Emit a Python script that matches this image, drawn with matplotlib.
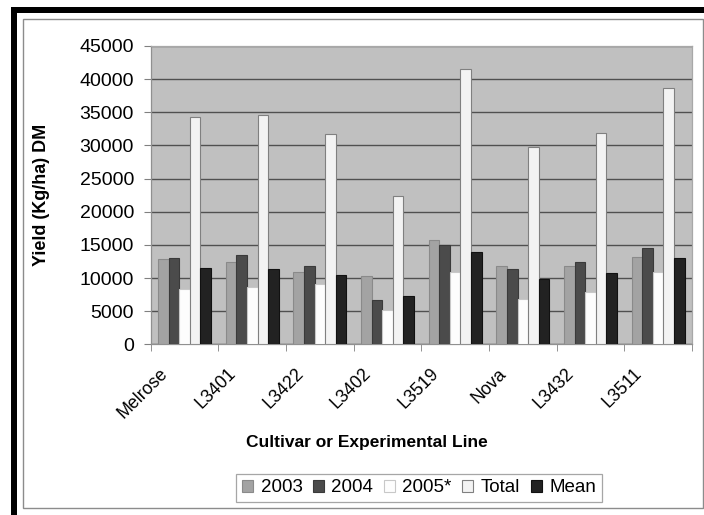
import matplotlib
matplotlib.use("Agg")
import matplotlib.pyplot as plt
import matplotlib.transforms as mtransforms
from matplotlib.patches import Rectangle
import numpy as np

plt.rcParams['font.family'] = ['Liberation Sans', 'DejaVu Sans']

# data
cultivars = ['Melrose', 'L3401', 'L3422', 'L3402', 'L3519', 'Nova', 'L3432', 'L3511']
y2003 = [12800, 12400, 10950, 10250, 15700, 11750, 11750, 13150]
y2004 = [12950, 13450, 11800, 6700, 14950, 11300, 12350, 14600]
y2005 = [8400, 8600, 9050, 5200, 10900, 6900, 7900, 10900]
total = [34250, 34600, 31800, 22350, 41600, 29800, 31950, 38700]
mean = [11450, 11400, 10500, 7350, 13900, 9900, 10700, 12950]

series = [('2003', y2003, '#a3a3a3', '#8a8a8a'),
          ('2004', y2004, '#4b4b4b', '#3a3a3a'),
          ('2005*', y2005, '#fdfdfd', '#c8c8c8'),
          ('Total', total, '#f3f3f3', '#808080'),
          ('Mean', mean, '#222222', '#111111')]

W, H = 704, 515
fig = plt.figure(figsize=(W / 100, H / 100), dpi=100)

def px(x0, y0, x1, y1):
    # pixel box (top-left origin) -> figure fraction rect
    return [x0 / W, 1 - y1 / H, (x1 - x0) / W, (y1 - y0) / H]

ax = fig.add_axes(px(150.7, 46, 692, 344.3))
ax.set_facecolor('#c0c0c0')

x = np.arange(len(cultivars))
bw = 0.157
for i, (name, vals, fc, ec) in enumerate(series):
    ax.bar(x + (i - 2) * bw, vals, width=bw, color=fc, edgecolor=ec,
           linewidth=0.8, label=name, zorder=3)

ax.set_xlim(-0.5, len(cultivars) - 0.5)
ax.set_ylim(0, 45000)
ax.set_yticks(np.arange(0, 45001, 5000))
ax.yaxis.grid(True, color='#505050', linewidth=1.0, zorder=1)
ax.set_axisbelow(True)

for s in ['top', 'right']:
    ax.spines[s].set_color('#a8a8a8')
    ax.spines[s].set_linewidth(0.9)
for s in ['left', 'bottom']:
    ax.spines[s].set_color('#909090')
    ax.spines[s].set_linewidth(0.9)

ax.tick_params(axis='y', length=5, color='#808080', labelsize=14, pad=7)
ax.set_xticks(x)
ax.set_xticklabels(cultivars, fontsize=12.8)
ax.tick_params(axis='x', which='major', length=0, pad=0)
ax.set_xticks(np.arange(-0.5, len(cultivars)), minor=True)
ax.tick_params(axis='x', which='minor', length=5, color='#808080')

offset = mtransforms.ScaledTranslation(-19 / 100, -27 / 100, fig.dpi_scale_trans)
for lab in ax.get_xticklabels():
    lab.set_rotation(45)
    lab.set_rotation_mode('anchor')
    lab.set_ha('right')
    lab.set_va('center')
    lab.set_transform(lab.get_transform() + offset)

fig.text(367 / W, 1 - 442 / H, 'Cultivar or Experimental Line', ha='center',
         va='center', fontsize=12.5, fontweight='bold')
fig.text(42 / W, 1 - 195 / H, 'Yield (Kg/ha) DM', ha='center', va='center',
         rotation=90, fontsize=13, fontweight='bold')

leg = fig.legend(loc='center', bbox_to_anchor=(419 / W, 1 - 488 / H), ncol=5,
                 fontsize=13.5, frameon=True, fancybox=False, handlelength=0.6,
                 handleheight=0.55, handletextpad=0.4, columnspacing=0.55,
                 borderpad=0.3, borderaxespad=0)
leg.get_frame().set_edgecolor('#909090')
leg.get_frame().set_linewidth(0.9)

# outer frame: thick black on top and left, thin gray inner border
fig.add_artist(Rectangle((11 / W, 0), 6 / W, 1 - 7.3 / H, transform=fig.transFigure,
                         color='black', lw=0))
fig.add_artist(Rectangle((11 / W, 1 - 13.3 / H), 1 - 11 / W, 6 / H, transform=fig.transFigure,
                         color='black', lw=0))
r = px(23.3, 19, 702.7, 507.5)
fig.add_artist(Rectangle((r[0], r[1]), r[2], r[3], transform=fig.transFigure,
                         fill=False, edgecolor='#8c8c8c', lw=1.0))

fig.savefig('out.png', dpi=100)
